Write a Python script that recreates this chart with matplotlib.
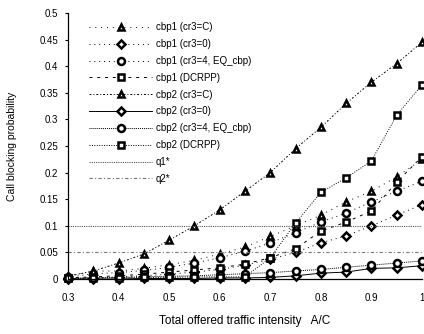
import matplotlib
matplotlib.use('Agg')
import matplotlib.pyplot as plt

# traffic intensity A/C
x = [0.3, 0.35, 0.4, 0.45, 0.5, 0.55, 0.6, 0.65, 0.7, 0.75, 0.8, 0.85, 0.9, 0.95, 1.0]

cbp1_c = [0.006, 0.015, 0.015, 0.02, 0.027, 0.035, 0.047, 0.06, 0.08, 0.1, 0.12, 0.145, 0.165, 0.192, 0.225]
cbp1_0 = [0.001, 0.002, 0.004, 0.006, 0.009, 0.013, 0.018, 0.026, 0.037, 0.05, 0.068, 0.081, 0.1, 0.12, 0.14]
cbp1_4 = [0.003, 0.01, 0.012, 0.016, 0.022, 0.03, 0.04, 0.052, 0.068, 0.087, 0.107, 0.124, 0.145, 0.165, 0.184]
cbp1_dc = [0.002, 0.004, 0.006, 0.009, 0.013, 0.017, 0.021, 0.028, 0.04, 0.057, 0.09, 0.107, 0.128, 0.182, 0.23]
cbp2_c = [0.005, 0.015, 0.03, 0.047, 0.073, 0.1, 0.13, 0.165, 0.2, 0.245, 0.285, 0.33, 0.37, 0.405, 0.445]
cbp2_0 = [0.0, 0.0, 0.0, 0.001, 0.001, 0.001, 0.002, 0.002, 0.003, 0.006, 0.011, 0.013, 0.02, 0.021, 0.025]
cbp2_4 = [0.001, 0.002, 0.003, 0.004, 0.005, 0.006, 0.008, 0.01, 0.012, 0.015, 0.018, 0.022, 0.026, 0.03, 0.034]
cbp2_dc = [0.001, 0.002, 0.002, 0.003, 0.003, 0.004, 0.004, 0.004, 0.04, 0.105, 0.163, 0.19, 0.222, 0.308, 0.365]
q1 = 0.1
q2 = 0.05

yticks = [0, 0.05, 0.1, 0.15, 0.2, 0.25, 0.3, 0.35, 0.4, 0.45, 0.5]
ytick_labels = ['0', '0.05', '0.1', '0.15', '0.2', '0.25', '0.3', '0.35', '0.4', '0.45', '0.5']
xticks = [0.3, 0.4, 0.5, 0.6, 0.7, 0.8, 0.9, 1.0]
xtick_labels = ['0.3', '0.4', '0.5', '0.6', '0.7', '0.8', '0.9', '1']

plt.rcParams['font.family'] = ['Liberation Sans', 'DejaVu Sans']

fig = plt.figure(figsize=(4.24, 3.34), dpi=100)
ax = fig.add_axes([68 / 424, 55 / 334, 354 / 424, 266 / 334])

mk = dict(color='black', markerfacecolor='white', markeredgecolor='black',
          markersize=5, markeredgewidth=1.8, linewidth=0.7, clip_on=False)

ax.plot(x, cbp1_c, marker='^', linestyle=(0, (1, 5)), label='cbp1 (cr3=C)', **mk)
ax.plot(x, cbp1_0, marker='D', linestyle=(0, (1, 4)), label='cbp1 (cr3=0)', **dict(mk, markersize=3.8))
ax.plot(x, cbp1_4, marker='o', linestyle=(0, (1, 4)), label='cbp1 (cr3=4, EQ_cbp)', **mk)
ax.plot(x, cbp1_dc, marker='s', linestyle=(0, (3, 5)), label='cbp1 (DCRPP)', **mk)
ax.plot(x, cbp2_c, marker='^', linestyle=(0, (2, 2, 1, 2)), label='cbp2 (cr3=C)', **mk)
ax.plot(x, cbp2_0, marker='D', linestyle='-', label='cbp2 (cr3=0)', **dict(mk, markersize=3.8))
ax.plot(x, cbp2_4, marker='o', linestyle=(0, (1, 1)), label='cbp2 (cr3=4, EQ_cbp)', **mk)
ax.plot(x, cbp2_dc, marker='s', linestyle=(0, (1, 1.5)), label='cbp2 (DCRPP)', **mk)
ax.plot([x[0], x[-1]], [q1, q1], color='#555555', linewidth=0.8, linestyle=(0, (1, 1)), label='q1*')
ax.plot([x[0], x[-1]], [q2, q2], color='#777777', linewidth=0.8, linestyle=(0, (3, 2, 1, 2)), label='q2*')

ax.set_xlim(0.3, 1.0)
ax.set_ylim(0, 0.5)
ax.set_yticks(yticks)
ax.set_yticklabels(ytick_labels)
ax.set_xticks(xticks)
ax.set_xticklabels(xtick_labels)
ax.tick_params(axis='y', direction='out', length=2, width=0.8, labelsize=7, pad=5)
ax.tick_params(axis='x', length=0, labelsize=7, pad=10)
for s in ['top', 'right']:
    ax.spines[s].set_visible(False)
ax.spines['left'].set_linewidth(0.9)
ax.spines['bottom'].set_linewidth(0.9)

ax.set_xlabel('Total offered traffic intensity   A/C', fontsize=8.5, labelpad=9)
ax.set_ylabel('Call blocking probability', fontsize=7.5, labelpad=16)

ax.legend(loc='upper left', bbox_to_anchor=(0.04, 0.99), frameon=False, fontsize=7,
          handlelength=6.5, handletextpad=0.4, labelspacing=0.7, borderaxespad=0.3)

fig.savefig('out.png', dpi=100)
